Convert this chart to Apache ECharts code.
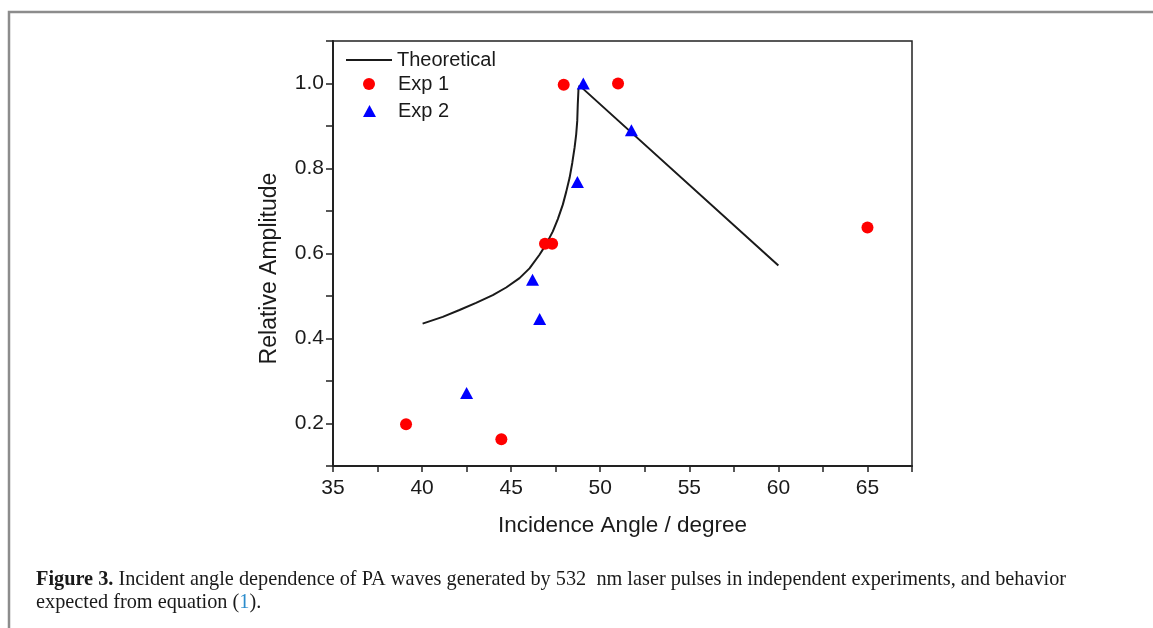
<!DOCTYPE html>
<html>
<head>
<meta charset="utf-8">
<script src="https://cdn.jsdelivr.net/npm/echarts/dist/echarts.min.js"></script>
<style>
  html, body { margin: 0; padding: 0; background: #fff; }
  #chart { width: 1153px; height: 628px; }
</style>
</head>
<body>
<div id="chart"></div>
<script>
// theoretical curve
const theoX = [40.03, 41.16, 42.10, 43.03, 43.97, 44.72, 45.47, 46.03, 46.59, 46.97, 47.34, 47.62, 47.90, 48.09, 48.28, 48.43, 48.56, 48.65, 48.71, 48.74, 48.78, 48.84, 60.0]
const theoY = [0.435, 0.451, 0.467, 0.484, 0.502, 0.520, 0.542, 0.565, 0.597, 0.622, 0.652, 0.681, 0.715, 0.745, 0.778, 0.813, 0.849, 0.880, 0.912, 0.951, 0.987, 0.995, 0.572]

// Exp 1 (red circles)
const exp1X = [39.1, 44.45, 46.9, 47.3, 47.95, 51.0, 65.0]
const exp1Y = [0.198, 0.163, 0.623, 0.623, 0.997, 1.0, 0.661]

// Exp 2 (blue triangles)
const exp2X = [42.5, 46.2, 46.6, 48.72, 49.05, 51.75]
const exp2Y = [0.272, 0.538, 0.446, 0.768, 1.0, 0.89]

const xTickLabels = [35, 40, 45, 50, 55, 60, 65]
const yTickLabels = ['0.2', '0.4', '0.6', '0.8', '1.0']

const zip = (xs, ys) => xs.map((x, i) => [x, ys[i]])

const SANS = '"Liberation Sans", Arial, sans-serif'
const SERIF = '"Liberation Serif", "Times New Roman", serif'
const INK = '#1a1a1a'

const chart = echarts.init(document.getElementById('chart'), null, { renderer: 'canvas' })

chart.setOption({
  animation: false,
  backgroundColor: '#fff',
  title: {
    left: 36,
    top: 568,
    padding: 0,
    text: '{b|Figure 3.} Incident angle dependence of PA waves generated by 532  nm laser pulses in independent experiments, and behavior\nexpected from equation ({c|1}).',
    textStyle: {
      fontFamily: SERIF,
      fontSize: 20.3,
      fontWeight: 'normal',
      color: INK,
      lineHeight: 23,
      rich: {
        b: { fontFamily: SERIF, fontSize: 20.3, fontWeight: 'bold', color: INK, lineHeight: 23 },
        c: { fontFamily: SERIF, fontSize: 20.3, color: '#2b8ccc', lineHeight: 23 }
      }
    }
  },
  graphic: [{
    type: 'polyline',
    shape: { points: [[9, 628], [9, 12], [1153, 12]] },
    style: { stroke: '#8c8c8c', lineWidth: 2.5, fill: null },
    silent: true
  }],
  legend: [
    {
      data: [{ name: 'Theoretical', icon: 'rect', itemStyle: { color: INK } }],
      left: 346, top: 50, padding: 0, itemWidth: 46, itemHeight: 2,
      textStyle: { fontFamily: SANS, fontSize: 20, color: INK }
    },
    {
      data: ['Exp 1'], left: 363, top: 74, padding: 0, itemWidth: 12, itemHeight: 12,
      textStyle: { fontFamily: SANS, fontSize: 20, color: INK, padding: [0, 0, 0, 18] }
    },
    {
      data: ['Exp 2'], left: 363, top: 101, padding: 0, itemWidth: 13, itemHeight: 12,
      textStyle: { fontFamily: SANS, fontSize: 20, color: INK, padding: [0, 0, 0, 17] }
    }
  ],
  grid: {
    left: 333, right: 241, top: 41, bottom: 162,
    show: true, borderColor: '#222', borderWidth: 1.5, backgroundColor: 'transparent'
  },
  xAxis: {
    type: 'value',
    min: 35, max: 67.5, interval: 2.5,
    name: 'Incidence Angle / degree',
    nameLocation: 'middle',
    nameGap: 48,
    nameTextStyle: { fontFamily: SANS, fontSize: 22.5, color: INK },
    axisLine: { show: true, lineStyle: { color: '#222', width: 2 } },
    axisTick: { show: true, length: 6, lineStyle: { color: '#222', width: 1.5 } },
    axisLabel: {
      fontFamily: SANS, fontSize: 21, color: INK, margin: 12,
      formatter: v => xTickLabels.includes(Math.round(v * 10) / 10) ? String(v) : ''
    },
    splitLine: { show: false }
  },
  yAxis: {
    type: 'value',
    min: 0.1, max: 1.1, interval: 0.1,
    name: 'Relative Amplitude',
    nameLocation: 'middle',
    nameGap: 52,
    nameTextStyle: { fontFamily: SANS, fontSize: 23, color: INK, padding: [0, 30, 0, 0] },
    axisLine: { show: true, lineStyle: { color: '#222', width: 2 } },
    axisTick: { show: true, length: 7, lineStyle: { color: '#222', width: 1.5 } },
    axisLabel: {
      fontFamily: SANS, fontSize: 21, color: INK, margin: 9,
      formatter: v => {
        const s = (Math.round(v * 10) / 10).toFixed(1)
        return yTickLabels.includes(s) ? s : ''
      }
    },
    splitLine: { show: false }
  },
  series: [
    {
      name: 'Theoretical',
      type: 'line',
      data: zip(theoX, theoY),
      symbol: 'none',
      lineStyle: { color: INK, width: 2 },
      itemStyle: { color: INK },
      z: 2
    },
    {
      name: 'Exp 1',
      type: 'scatter',
      data: zip(exp1X, exp1Y),
      symbol: 'circle',
      symbolSize: 12,
      itemStyle: { color: '#ff0000', opacity: 1 },
      z: 3
    },
    {
      name: 'Exp 2',
      type: 'scatter',
      data: zip(exp2X, exp2Y),
      symbol: 'triangle',
      symbolSize: [13, 12],
      itemStyle: { color: '#0000ff', opacity: 1 },
      z: 4
    }
  ]
})
</script>
</body>
</html>
